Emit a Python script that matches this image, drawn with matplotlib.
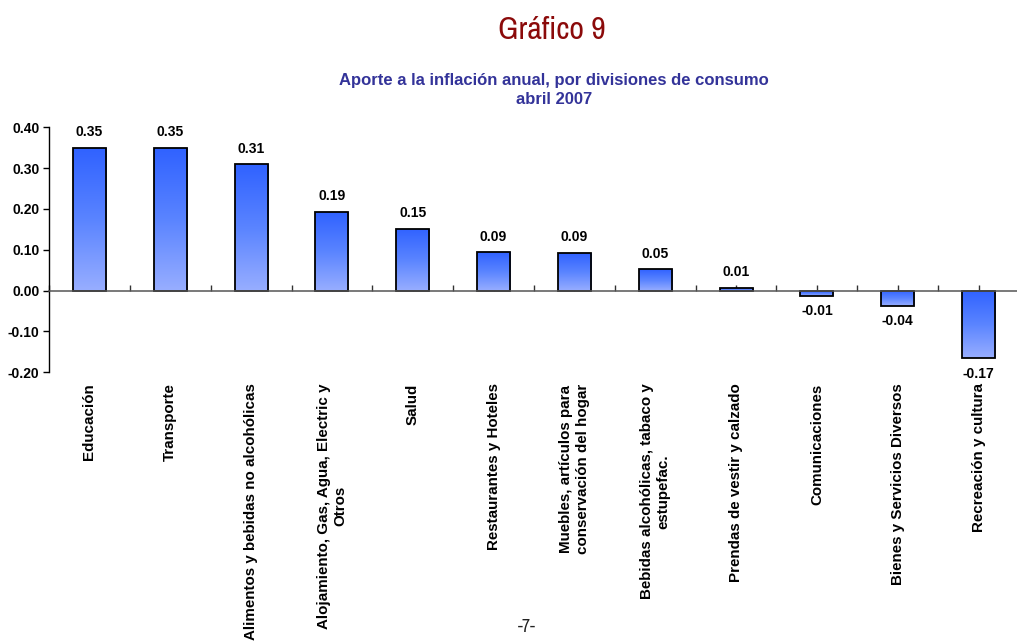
import numpy as np
import matplotlib
matplotlib.use("Agg")
import matplotlib.pyplot as plt
from matplotlib.colors import LinearSegmentedColormap
from matplotlib import font_manager as fm

categories = [
    "Educación",
    "Transporte",
    "Alimentos y bebidas no alcohólicas",
    "Alojamiento, Gas, Agua, Electric y\nOtros",
    "Salud",
    "Restaurantes y Hoteles",
    "Muebles, artículos para\nconservación del hogar",
    "Bebidas alcohólicas, tabaco y\nestupefac.",
    "Prendas de vestir y calzado",
    "Comunicaciones",
    "Bienes y Servicios Diversos",
    "Recreación y cultura",
]
values = [0.35, 0.35, 0.31, 0.193, 0.152, 0.094, 0.093, 0.052, 0.007, -0.012, -0.037, -0.166]
yticks = [-0.20, -0.10, 0.00, 0.10, 0.20, 0.30, 0.40]

plt.rcParams['font.family'] = ['Liberation Sans', 'DejaVu Sans']


def narrow_font(size):
    files = []
    for f in fm.fontManager.ttflist:
        nm = f.name.lower()
        fn = f.fname.lower()
        if f.weight in (400, 'normal', 'regular') and f.style == 'normal':
            if 'narrow' in nm or 'narrow' in fn:
                files.append((0, f.fname))
            elif 'condensed' in nm or 'condensed' in fn or str(f.stretch) == 'condensed':
                if 'bold' not in fn and 'oblique' not in fn and 'italic' not in fn:
                    files.append((1, f.fname))
    if files:
        files.sort()
        return fm.FontProperties(fname=files[0][1], size=size)
    return fm.FontProperties(family=['Liberation Sans', 'DejaVu Sans'], size=size * 0.82)


W, H = 1017, 641
fig = plt.figure(figsize=(W / 100, H / 100), dpi=100)
fig.patch.set_facecolor('white')

left = 49 / W
width = 970 / W
bottom = 1 - 372.3 / H
top = 1 - 127.3 / H
ax = fig.add_axes([left, bottom, width, top - bottom])

x = np.arange(len(categories))
bars = ax.bar(x, values, width=0.41, color='none', edgecolor='black', linewidth=1.3, zorder=3)

cmap = LinearSegmentedColormap.from_list('g', ['#3062FF', '#5A84FF', '#98AEFF'])
grad = np.linspace(0, 1, 256).reshape(-1, 1)
for b in bars:
    x0, y0 = b.get_x(), b.get_y()
    w, h = b.get_width(), b.get_height()
    ylo, yhi = min(y0, y0 + h), max(y0, y0 + h)
    im = ax.imshow(grad, cmap=cmap, aspect='auto', extent=(x0, x0 + w, ylo, yhi),
                   origin='upper', zorder=2, interpolation='bilinear')
    im.set_clip_path(b)

ax.set_xlim(-0.5, len(categories) - 0.5)
ax.set_ylim(-0.2, 0.4)

for s in ['top', 'right']:
    ax.spines[s].set_visible(False)
ax.spines['bottom'].set_position(('data', 0))
ax.spines['bottom'].set_color('#555555')
ax.spines['bottom'].set_linewidth(1.1)
ax.spines['bottom'].set_zorder(4)
ax.spines['left'].set_linewidth(1.0)

ax.set_xticks(np.arange(2 * len(categories) + 1) * 0.5 - 0.5)
ax.set_xticklabels([])
ax.tick_params(axis='x', direction='in', length=4, width=1.0, color='#333333')
for t in ax.xaxis.get_major_ticks():
    t.tick1line.set_zorder(5)

ax.set_yticks(yticks)
ax.set_yticklabels([f"{v:.2f}" for v in yticks], fontsize=10, fontweight='bold')
ax.tick_params(axis='y', direction='out', length=4, width=1.0, pad=3)

for xi, v in zip(x, values):
    if v >= 0:
        ax.annotate(f"{v:.2f}", xy=(xi, v), xytext=(0, 6), textcoords='offset points',
                    ha='center', va='bottom', fontsize=10, fontweight='bold')
    else:
        ax.annotate(f"{v:.2f}", xy=(xi, v), xytext=(0, -6), textcoords='offset points',
                    ha='center', va='top', fontsize=10, fontweight='bold')

for xi, c in zip(x, categories):
    ax.annotate(c, xy=(xi, 0), xycoords=('data', 'axes fraction'), xytext=(0, -8),
                textcoords='offset points', rotation=90, ha='center', va='top',
                multialignment='center', fontsize=10.9, fontweight='bold', linespacing=1.2)

fig.text(552 / W, 1 - 30 / H, "Gráfico 9", ha='center', va='center',
         color='#8B0A0A', fontproperties=narrow_font(23))
fig.text(554 / W, 1 - 80 / H, "Aporte a la inflación anual, por divisiones de consumo",
         ha='center', va='center', fontsize=12, fontweight='bold', color='#333399')
fig.text(554 / W, 1 - 100 / H, "abril 2007", ha='center', va='center', fontsize=12,
         fontweight='bold', color='#333399')
fig.text(527 / W, 1 - 627 / H, "-7-", ha='center', va='center',
         color='#222222', fontproperties=narrow_font(13))

fig.savefig('out.png', dpi=100, facecolor='white')
